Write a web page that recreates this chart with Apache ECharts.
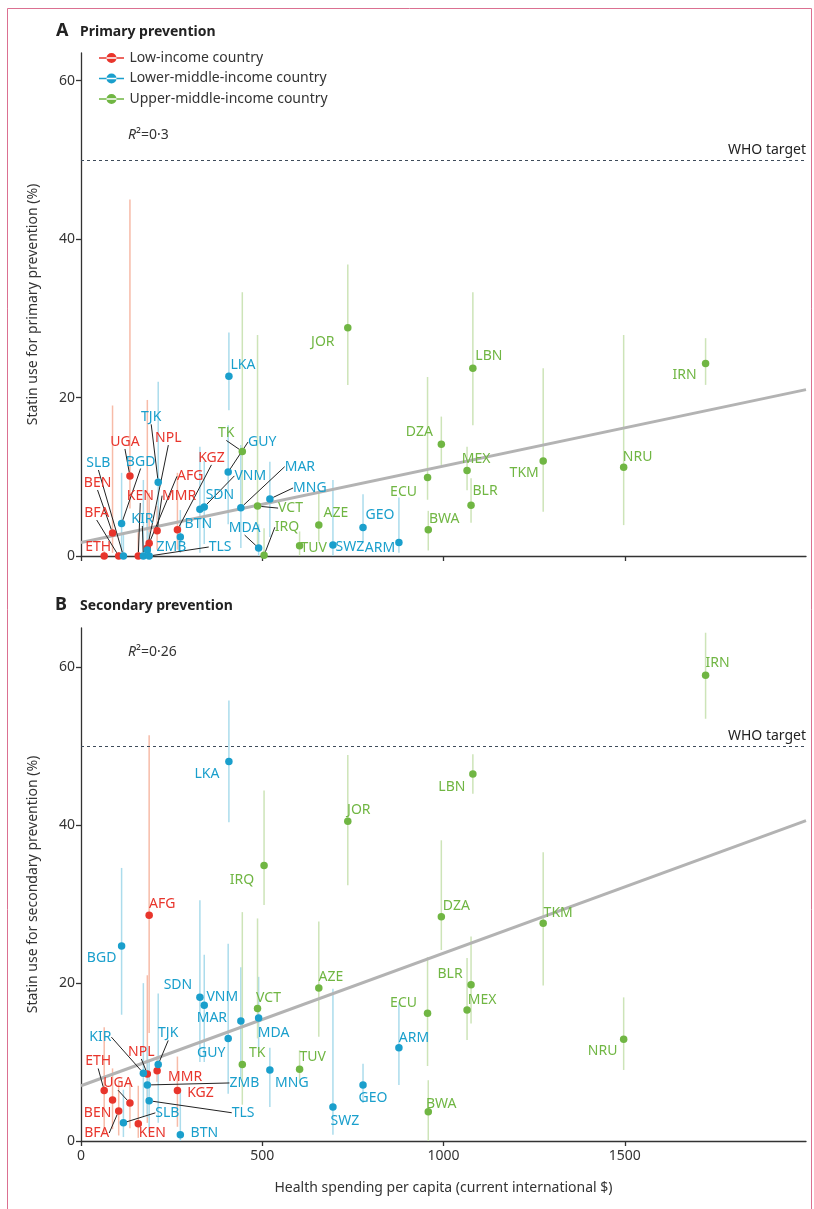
<!DOCTYPE html>
<html>
<head>
<meta charset="utf-8">
<script src="https://cdn.jsdelivr.net/npm/echarts@6.0.0/dist/echarts.min.js"></script>
<style>
  html, body { margin: 0; padding: 0; background: #fff; }
  #main { width: 814px; height: 1209px; }
</style>
</head>
<body>
<div id="main"></div>
<script>
// country codes, income group and health spending per capita
const codes = ["ETH", "BEN", "BFA", "UGA", "KEN", "NPL", "AFG", "MMR", "KGZ",
  "SLB", "BGD", "KIR", "ZMB", "TLS", "TJK", "BTN", "SDN", "VNM", "GUY", "LKA", "MAR", "MDA", "MNG", "SWZ", "GEO", "ARM",
  "TK", "VCT", "IRQ", "TUV", "AZE", "JOR", "ECU", "BWA", "DZA", "MEX", "BLR", "LBN", "TKM", "NRU", "IRN"];
const income = ["L", "L", "L", "L", "L", "L", "L", "L", "L",
  "M", "M", "M", "M", "M", "M", "M", "M", "M", "M", "M", "M", "M", "M", "M", "M", "M",
  "U", "U", "U", "U", "U", "U", "U", "U", "U", "U", "U", "U", "U", "U", "U"];
const spending = [64, 87, 104, 135, 158, 183, 188, 210, 266,
  117, 112, 172, 183, 188, 213, 274, 328, 340, 406, 408, 441, 490, 521, 695, 778, 877,
  445, 487, 505, 603, 656, 736, 956, 958, 994, 1065, 1076, 1081, 1275, 1497, 1723];

// primary prevention (%), with uncertainty interval
const primary = [0, 2.9, 0, 10.1, 0, 1.0, 1.6, 3.2, 3.3,
  0, 4.1, 0, 0.75, 0, 9.3, 2.4, 5.9, 6.2, 10.6, 22.7, 6.1, 1.0, 7.2, 1.4, 3.6, 1.7,
  13.2, 6.3, 0.1, 1.3, 3.9, 28.8, 9.9, 3.3, 14.1, 10.8, 6.4, 23.7, 12.0, 11.2, 24.3];
const primaryLo = [0, 0.4, 0, 6, 0, 0, 0, 0.8, 0.8,
  0, 0.4, 0, 0, 0, 3, 0.4, 0.4, 1.5, 4, 18.4, 1, 0, 2.4, 0, 1.6, 0.4,
  6.4, 1, 0, 0, 1.8, 21.6, 7.1, 0.7, 11.5, 8.3, 4.2, 16.5, 5.6, 3.9, 21.6];
const primaryHi = [0.6, 19, 0.5, 45, 3, 19.7, 8, 6.3, 10.5,
  3, 10.5, 9.6, 5, 3, 22, 5.8, 13.8, 12, 16.5, 28.2, 14, 4, 11.9, 9.6, 7.8, 7.4,
  33.3, 27.9, 3.5, 3.1, 8, 36.8, 22.6, 5.7, 17.6, 13.8, 9.8, 33.3, 23.7, 27.9, 27.5];

// secondary prevention (%), with uncertainty interval
const secondary = [6.4, 5.2, 3.8, 4.8, 2.2, 8.5, 28.6, 8.9, 6.4,
  2.3, 24.7, 8.6, 7.1, 5.1, 9.7, 0.8, 18.2, 17.2, 13.0, 48.1, 15.2, 15.6, 9.0, 4.3, 7.1, 11.8,
  9.7, 16.8, 34.9, 9.1, 19.4, 40.5, 16.2, 3.7, 28.4, 16.6, 19.8, 46.5, 27.6, 12.9, 59.0];
const secondaryLo = [1, 1.5, 0.7, 1.6, 0.4, 2.3, 13.7, 7.5, 1.8,
  0.5, 16, 3, 3, 1, 2.3, 0, 10, 10, 6, 40.4, 8, 11.5, 4.3, 0.8, 4.8, 7.1,
  4.6, 13, 29.9, 7.3, 13.2, 32.4, 9.5, 0, 24.2, 12.8, 14.9, 44, 19.7, 9, 53.5];
const secondaryHi = [14.4, 9.2, 7.7, 7.7, 7, 21, 51.4, 10.7, 10.7,
  6.5, 34.6, 20, 12, 10, 18.7, 6.4, 30.5, 23.6, 25, 55.8, 22, 20.8, 11.8, 19.3, 9.8, 17.6,
  29, 28.2, 44.4, 11.5, 27.8, 48.9, 23.3, 7.7, 38.1, 23.2, 25.9, 49, 36.6, 18.2, 64.4];

// fitted regression lines, end points
const fitPrimary = [[0, 1.7], [2000, 21]];
const fitSecondary = [[0, 7.0], [2000, 40.6]];
const whoTarget = 50;
const xTicks = [0, 500, 1000, 1500];
const yTicks = [0, 20, 40, 60];

const groupNames = { L: "Low-income country", M: "Lower-middle-income country", U: "Upper-middle-income country" };
const groupColors = { L: "#e8352c", M: "#1a9fcc", U: "#70b643" };
const barColors = { L: "#f7bba8", M: "#abdcec", U: "#cde4b8" };

// label offsets from the dot (px), and which labels get a leader line
const labelOffA = {
  ETH: [-6, -9], BEN: [-15, -50], BFA: [-22, -43], UGA: [-5, -34], KEN: [2, -60], NPL: [21, -110],
  AFG: [41, -67], MMR: [22, -35], KGZ: [34, -72], SLB: [-25, -93], BGD: [19, -62], KIR: [-1, -37],
  ZMB: [24, -3], TLS: [71, -9], TJK: [-7, -65], BTN: [18, -13], SDN: [20, -14], VNM: [46, -31],
  GUY: [34, -30], LKA: [14, -11], MAR: [59, -41], MDA: [-14, -20], MNG: [40, -11], SWZ: [17, 2],
  GEO: [17, -12], ARM: [-19, 5], TK: [-16, -18], VCT: [33, 2], IRQ: [23, -28], TUV: [14, 2],
  AZE: [17, -12], JOR: [-25, 14], ECU: [-24, 14], BWA: [16, -11], DZA: [-22, -12], MEX: [9, -11],
  BLR: [14, -14], LBN: [16, -12], TKM: [-19, 12], NRU: [14, -10], IRN: [-21, 12]
};
const leadersA = ["BEN", "BFA", "SLB", "BGD", "UGA", "KEN", "KIR", "NPL", "TJK", "AFG", "MMR", "KGZ",
  "TLS", "VNM", "GUY", "TK", "MAR", "MNG", "VCT", "MDA", "IRQ"];
const labelOffB = {
  ETH: [-6, -29], BEN: [-15, 13], BFA: [-22, 22], UGA: [-12, -20], KEN: [14, 9], NPL: [-6, -22],
  AFG: [13, -11], MMR: [28, 6], KGZ: [23, 3], SLB: [44, -10], BGD: [-20, 12], KIR: [-43, -36],
  ZMB: [97, -2], TLS: [94, 12], TJK: [10, -31], BTN: [24, -2], SDN: [-22, -12], VNM: [18, -8],
  GUY: [-17, 15], LKA: [-22, 13], MAR: [-29, -3], MDA: [15, 15], MNG: [22, 13], SWZ: [12, 14],
  GEO: [10, 13], ARM: [15, -10], TK: [15, -11], VCT: [11, -10], IRQ: [-22, 14], TUV: [13, -12],
  AZE: [12, -11], JOR: [11, -11], ECU: [-24, -10], BWA: [13, -8], DZA: [15, -11], MEX: [15, -10],
  BLR: [-21, -11], LBN: [-21, 13], TKM: [15, -10], NRU: [-21, 12], IRN: [12, -12]
};
const leadersB = ["ETH", "UGA", "BFA", "SLB", "TLS", "ZMB", "NPL", "KIR", "TJK"];

const FONT = "'Noto Sans', sans-serif";
const chart = echarts.init(document.getElementById("main"));

function pointSeries(panel, grp, vals, offs, leaders) {
  const idx = codes.map((c, i) => i).filter((i) => income[i] === grp);
  const offList = idx.map((i) => offs[codes[i]] || [12, -10]);
  return {
    type: "scatter",
    name: groupNames[grp],
    xAxisIndex: panel,
    yAxisIndex: panel,
    symbolSize: 7.5,
    z: 5,
    itemStyle: { color: groupColors[grp], opacity: 1 },
    label: {
      show: true,
      formatter: "{b}",
      color: groupColors[grp],
      fontSize: 14,
      fontFamily: FONT,
    },
    labelLine: { show: false, lineStyle: { color: "#222", width: 1 } },
    labelLayout: function (params) {
      const o = offList[params.dataIndex];
      const r = params.rect;
      return {
        x: r.x + r.width / 2 + o[0],
        y: r.y + r.height / 2 + o[1],
        align: "center",
        verticalAlign: "middle",
      };
    },
    data: idx.map((i) => ({
      name: codes[i],
      value: [spending[i], vals[i]],
      labelLine: { show: leaders.indexOf(codes[i]) >= 0, lineStyle: { color: "#222", width: 1 } },
    })),
  };
}

function barSeries(panel, grp, lo, hi) {
  const idx = codes.map((c, i) => i).filter((i) => income[i] === grp);
  return {
    type: "custom",
    xAxisIndex: panel,
    yAxisIndex: panel,
    z: 1,
    silent: true,
    encode: { x: 0, y: [1, 2] },
    renderItem: function (params, api) {
      const p1 = api.coord([api.value(0), api.value(1)]);
      const p2 = api.coord([api.value(0), api.value(2)]);
      return {
        type: "line",
        shape: { x1: p1[0], y1: p1[1], x2: p2[0], y2: p2[1] },
        style: { stroke: barColors[grp], lineWidth: 1.5 },
      };
    },
    data: idx.map((i) => [spending[i], lo[i], hi[i]]),
  };
}

function fitSeries(panel, pts) {
  return {
    type: "line",
    xAxisIndex: panel,
    yAxisIndex: panel,
    z: 3,
    silent: true,
    symbol: "none",
    lineStyle: { color: "#b3b3b3", width: 3 },
    data: pts,
    markLine: {
      silent: true,
      symbol: "none",
      lineStyle: { color: "#3e4b5a", type: [3, 3], width: 1 },
      label: {
        position: "insideEndTop",
        formatter: "WHO target",
        color: "#222",
        fontSize: 14,
        fontFamily: FONT,
        distance: [0, 3],
      },
      data: [{ yAxis: whoTarget }],
    },
  };
}

const axisCommon = {
  axisLine: { lineStyle: { color: "#333", width: 1.3 } },
  axisTick: { length: 5, lineStyle: { color: "#333", width: 1.3 } },
  splitLine: { show: false },
  axisLabel: { color: "#333", fontSize: 14, fontFamily: FONT },
};

function xAxis(panel, withLabels) {
  return {
    type: "value",
    gridIndex: panel,
    min: 0,
    max: 2000,
    interval: 500,
    axisLine: axisCommon.axisLine,
    axisTick: Object.assign({ customValues: xTicks }, axisCommon.axisTick),
    splitLine: axisCommon.splitLine,
    axisLabel: Object.assign({ show: withLabels, customValues: xTicks, formatter: (v) => String(v) }, axisCommon.axisLabel),
    name: withLabels ? "Health spending per capita (current international $)" : "",
    nameLocation: "middle",
    nameGap: 40,
    nameTextStyle: { color: "#333", fontSize: 14, fontFamily: FONT },
  };
}

function yAxis(panel, max, name) {
  return {
    type: "value",
    gridIndex: panel,
    min: 0,
    max: max,
    interval: 20,
    axisLine: axisCommon.axisLine,
    axisTick: Object.assign({ customValues: yTicks }, axisCommon.axisTick),
    splitLine: axisCommon.splitLine,
    axisLabel: Object.assign({ customValues: yTicks, margin: 6 }, axisCommon.axisLabel),
    name: name,
    nameLocation: "middle",
    nameGap: 41,
    nameTextStyle: { color: "#333", fontSize: 14, fontFamily: FONT },
  };
}

const series = [];
["L", "M", "U"].forEach((g) => {
  series.push(barSeries(0, g, primaryLo, primaryHi));
  series.push(barSeries(1, g, secondaryLo, secondaryHi));
});
series.push(fitSeries(0, fitPrimary));
series.push(fitSeries(1, fitSecondary));
["L", "M", "U"].forEach((g) => {
  series.push(pointSeries(0, g, primary, labelOffA, leadersA));
  series.push(pointSeries(1, g, secondary, labelOffB, leadersB));
});

const legendIcon = "path://M0,4.3H26V5.7H0Z M7.8,5a5.2,5.2 0 1,0 10.4,0a5.2,5.2 0 1,0 -10.4,0Z";

function boldText(left, top, text, size) {
  return {
    type: "text",
    left: left,
    top: top,
    style: { text: text, fontSize: size, fontWeight: "bold", fill: "#222", fontFamily: FONT },
  };
}

function r2Text(left, top, value) {
  return {
    type: "text",
    left: left,
    top: top,
    style: {
      text: "{r|R}{n|²=" + value + "}",
      rich: {
        r: { fontSize: 14, fontStyle: "italic", fill: "#333", fontFamily: FONT },
        n: { fontSize: 14, fill: "#333", fontFamily: FONT },
      },
    },
  };
}

chart.setOption({
  animation: false,
  backgroundColor: "#fff",
  grid: [
    { left: 81, right: 8, top: 53, height: 503 },
    { left: 81, right: 8, top: 628, height: 513 },
  ],
  xAxis: [xAxis(0, false), xAxis(1, true)],
  yAxis: [
    yAxis(0, 63.5, "Statin use for primary prevention (%)"),
    yAxis(1, 65, "Statin use for secondary prevention (%)"),
  ],
  legend: {
    orient: "vertical",
    left: 99,
    top: 51,
    padding: 0,
    itemWidth: 26,
    itemHeight: 10,
    itemGap: 6.5,
    textStyle: { color: "#333", fontSize: 14, fontFamily: FONT },
    data: ["L", "M", "U"].map((g) => ({ name: groupNames[g], icon: legendIcon })),
  },
  graphic: [
    {
      type: "rect",
      shape: { x: 7.5, y: 8.5, width: 804, height: 1215 },
      style: { fill: "none", stroke: "#db7091", lineWidth: 1 },
      silent: true,
    },
    boldText(56, 22, "A", 18),
    boldText(80, 25, "Primary prevention", 14),
    boldText(55, 596, "B", 18),
    boldText(80, 599, "Secondary prevention", 14),
    r2Text(128, 128, "0·3"),
    r2Text(128, 645, "0·26"),
  ],
  series: series,
});
</script>
</body>
</html>
